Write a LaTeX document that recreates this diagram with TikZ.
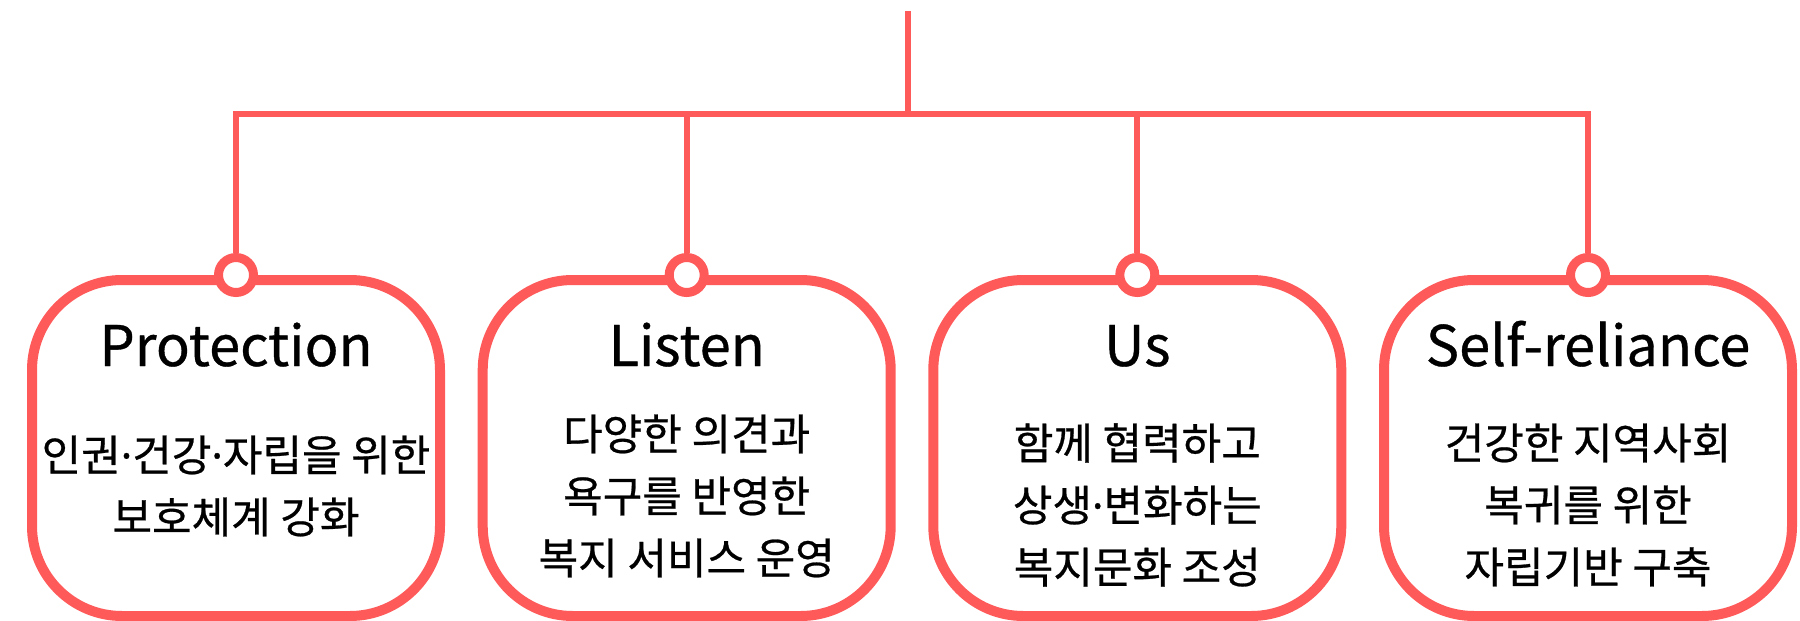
\documentclass[tikz,border=0pt]{standalone}
\usepackage{fontspec}
\setmainfont[FakeBold=0.6]{Noto Sans CJK KR}
\newfontfamily\dotfont[FakeBold=0.6]{Noto Sans}
\newcommand{\mdot}{{\dotfont ·}}
\definecolor{coral}{RGB}{255,90,90}

\begin{document}
\begin{tikzpicture}[x=1pt,y=-1pt]
    \tikzstyle{box}=[rectangle,draw=coral,line width=10pt,rounded corners=90pt,minimum width=408pt,minimum height=336pt,inner sep=0pt]
    \tikzstyle{knob}=[circle,draw=coral,fill=white,line width=9pt,minimum size=35pt,inner sep=0pt]
    \tikzstyle{wire}=[draw=coral,line width=6pt]
    \tikzstyle{title}=[font=\fontsize{56}{62}\selectfont,anchor=base,inner sep=0pt]
    \tikzstyle{goal}=[font=\fontsize{43}{62}\selectfont,align=center,inner sep=0pt]
    \useasboundingbox (0,0) rectangle (1800,621);

    \foreach \num/\x/\name in {1/236/Protection, 2/686.7/Listen, 3/1137.3/Us, 4/1588/Self-reliance}
    {
        \node[box] (B-\num) at (\x,448) {};
        \node[title] (T-\num) at (\x,366) {\name};
    }

    \node[goal] (G-1) at (236,486) {인권\mdot 건강\mdot 자립을 위한\\보호체계 강화};
    \node[goal] (G-2) at (686.7,496) {다양한 의견과\\욕구를 반영한\\복지 서비스 운영};
    \node[goal] (G-3) at (1137.3,505) {함께 협력하고\\상생\mdot 변화하는\\복지문화 조성};
    \node[goal] (G-4) at (1588,505) {건강한 지역사회\\복귀를 위한\\자립기반 구축};

    \coordinate (root) at (908,11);
    \coordinate (J) at (908,114);
    \foreach \num in {1,...,4}
        \node[knob] (C-\num) at (B-\num.north) {};

    \draw[wire] (root) -- (J);
    \draw[wire,line join=miter] (C-1) -- (C-1 |- J) -- (C-4 |- J) -- (C-4);
    \foreach \num in {2,3}
        \draw[wire] (C-\num |- J) -- (C-\num);
\end{tikzpicture}
\end{document}
